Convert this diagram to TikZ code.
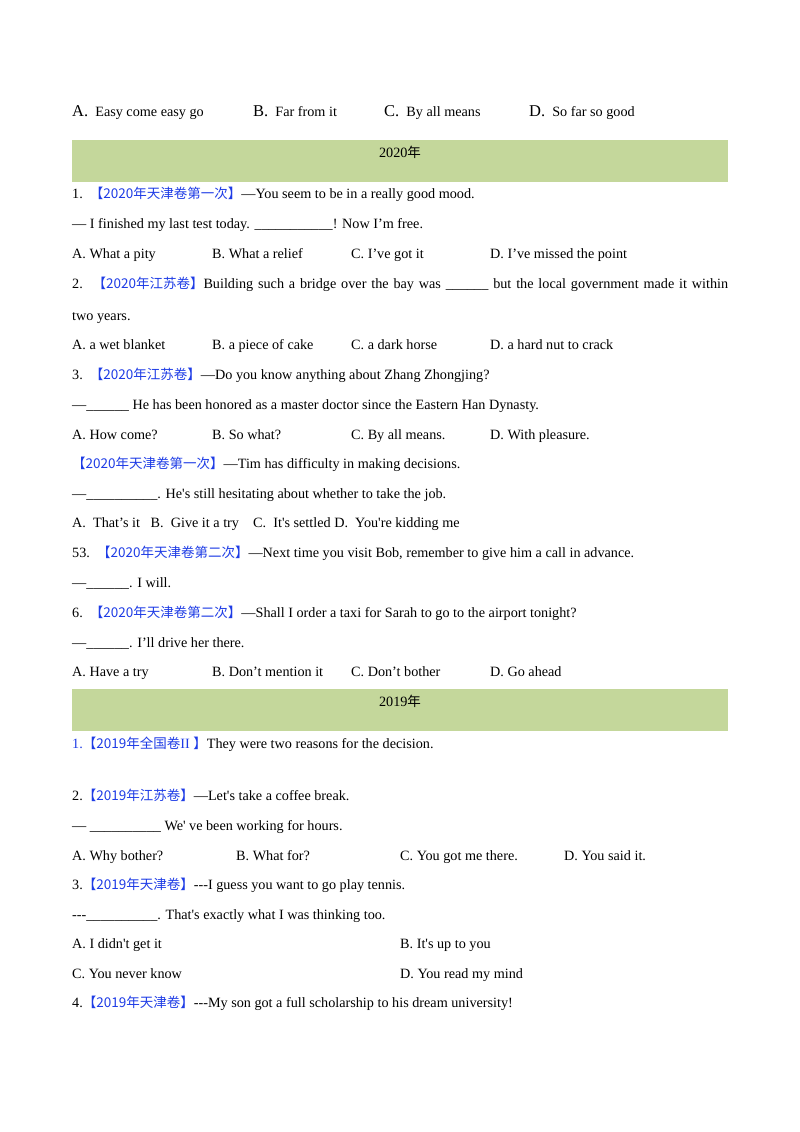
\documentclass[tikz,border=0pt]{standalone}
\usepackage{fontspec}
\setmainfont[Ligatures=TeXOff]{Liberation Serif}
\newfontfamily\cjk{Noto Sans CJK SC}
\definecolor{qblue}{RGB}{30,60,230}
\definecolor{bargreen}{RGB}{196,215,155}
\newcommand{\zh}[1]{{\cjk\fontsize{13.5}{16}\selectfont #1}}
\newcommand{\tag}[1]{\textcolor{qblue}{\zh{#1}}}
\begin{document}
\begin{tikzpicture}[x=1pt,y=-1pt,
  t/.style={anchor=base west,inner sep=0pt,font=\fontsize{14.2}{17}\selectfont},
  bar/.style={fill=bargreen,draw=none}]
\useasboundingbox[fill=white] (0,0) rectangle (800,1132);
\node[t] (a1) at (72,116) {{\fontsize{16.5}{18}\selectfont A.}\ \ Easy come easy go};
\node[t] (a2) at (253,116) {{\fontsize{16.5}{18}\selectfont B.}\ \ Far from it};
\node[t] (a3) at (384,116) {{\fontsize{16.5}{18}\selectfont C.}\ \ By all means};
\node[t] (a4) at (529,116) {{\fontsize{16.5}{18}\selectfont D.}\ \ So far so good};
\fill[bar] (72,140) rectangle (728,182);
\node[t,anchor=base] (y20) at (400,157) {2020\zh{年}};
\node[t] (l1) at (72,198) {1.\ \ \tag{【2020年天津卷第一次】}—You seem to be in a really good mood.};
\node[t] (l2) at (72,228) {— I finished my last test today. \_\_\_\_\_\_\_\_\_\_\_! Now I’m free.};
\node[t] (o1a) at (72,258) {A. What a pity};
\node[t] (o1b) at (212,258) {B. What a relief};
\node[t] (o1c) at (351,258) {C. I’ve got it};
\node[t] (o1d) at (490,258) {D. I’ve missed the point};
\node[t] (l3) at (72,288) {\makebox[656pt][s]{2.\ \ \tag{【2020年江苏卷】}Building such a bridge over the bay was \_\_\_\_\_\_ but the local government made it within}};
\node[t] (l4) at (72,320) {two years.};
\node[t] (o2a) at (72,349) {A. a wet blanket};
\node[t] (o2b) at (212,349) {B. a piece of cake};
\node[t] (o2c) at (351,349) {C. a dark horse};
\node[t] (o2d) at (490,349) {D. a hard nut to crack};
\node[t] (l5) at (72,379) {3.\ \ \tag{【2020年江苏卷】}—Do you know anything about Zhang Zhongjing?};
\node[t] (l6) at (72,409) {—\_\_\_\_\_\_ He has been honored as a master doctor since the Eastern Han Dynasty.};
\node[t] (o3a) at (72,439) {A. How come?};
\node[t] (o3b) at (212,439) {B. So what?};
\node[t] (o3c) at (351,439) {C. By all means.};
\node[t] (o3d) at (490,439) {D. With pleasure.};
\node[t] (l7) at (72,468) {\tag{【2020年天津卷第一次】}—Tim has difficulty in making decisions.};
\node[t] (l8) at (72,498) {—\_\_\_\_\_\_\_\_\_\_. He's still hesitating about whether to take the job.};
\node[t] (l9) at (72,527) {A.\ \ That’s it\ \ \ B.\ \ Give it a try\ \ \ \ C.\ \ It's settled D.\ \ You're kidding me};
\node[t] (l10) at (72,557) {53.\ \ \tag{【2020年天津卷第二次】}—Next time you visit Bob, remember to give him a call in advance.};
\node[t] (l11) at (72,587) {—\_\_\_\_\_\_. I will.};
\node[t] (l12) at (72,617) {6.\ \ \tag{【2020年天津卷第二次】}—Shall I order a taxi for Sarah to go to the airport tonight?};
\node[t] (l13) at (72,647) {—\_\_\_\_\_\_. I’ll drive her there.};
\node[t] (o6a) at (72,676) {A. Have a try};
\node[t] (o6b) at (212,676) {B. Don’t mention it};
\node[t] (o6c) at (351,676) {C. Don’t bother};
\node[t] (o6d) at (490,676) {D. Go ahead};
\fill[bar] (72,689) rectangle (728,731);
\node[t,anchor=base] (y19) at (400,706) {2019\zh{年}};
\node[t] (m1) at (72,748) {\textcolor{qblue}{1.}\tag{【2019年全国卷}\textcolor{qblue}{ II }\tag{】}They were two reasons for the decision.};
\node[t] (m2) at (72,800) {2.\tag{【2019年江苏卷】}—Let's take a coffee break.};
\node[t] (m3) at (72,830) {— \_\_\_\_\_\_\_\_\_\_ We' ve been working for hours.};
\node[t] (p2a) at (72,860) {A. Why bother?};
\node[t] (p2b) at (236,860) {B. What for?};
\node[t] (p2c) at (400,860) {C. You got me there.};
\node[t] (p2d) at (564,860) {D. You said it.};
\node[t] (m4) at (72,889) {3.\tag{【2019年天津卷】}---I guess you want to go play tennis.};
\node[t] (m5) at (72,919) {---\_\_\_\_\_\_\_\_\_\_. That's exactly what I was thinking too.};
\node[t] (p3a) at (72,948) {A. I didn't get it};
\node[t] (p3b) at (400,948) {B. It's up to you};
\node[t] (p3c) at (72,978) {C. You never know};
\node[t] (p3d) at (400,978) {D. You read my mind};
\node[t] (m6) at (72,1007) {4.\tag{【2019年天津卷】}---My son got a full scholarship to his dream university!};
\end{tikzpicture}
\end{document}
